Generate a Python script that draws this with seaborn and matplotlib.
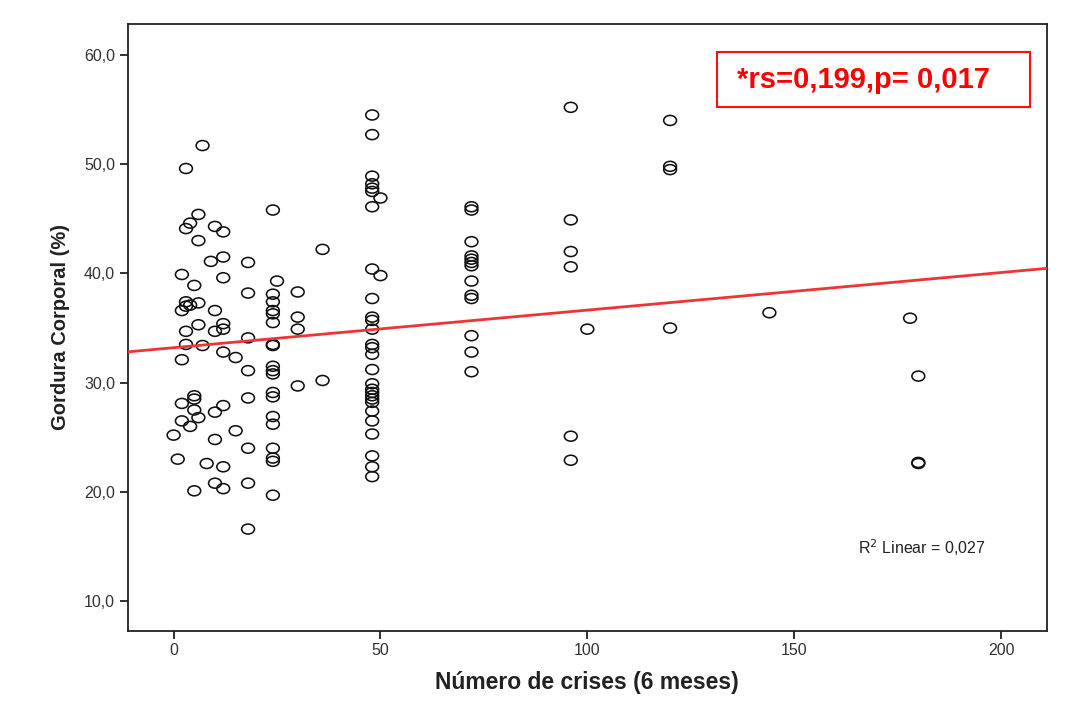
import matplotlib
matplotlib.use("Agg")
import matplotlib.pyplot as plt
import matplotlib.ticker as mticker
from matplotlib.patches import Rectangle
from matplotlib.path import Path
import seaborn as sns
import pandas as pd

# ---- data ----
crises_low = [7, 3, 24, 6, 4, 3, 10, 12, 6, 36, 9, 12, 18, 2, 12, 25, 5, 18,
              24, 24, 24, 24, 24, 30, 30, 3, 3, 2, 4, 6, 10, 6, 12, 12, 10, 3,
              18, 30, 3, 7, 24, 24, 12, 15, 2, 18, 24, 24, 24, 36, 30, 5, 5, 2,
              18, 24, 24, 12, 10, 5, 6, 2, 4, 24, 24, 15, 0, 10, 18, 24, 1, 8,
              12, 24, 24, 18, 10, 12, 5, 24, 18]
gordura_low = [51.7, 49.6, 45.8, 45.4, 44.6, 44.1, 44.3, 43.8, 43.0, 42.2, 41.1,
               41.5, 41.0, 39.9, 39.6, 39.3, 38.9, 38.2, 38.1, 37.4, 36.6, 36.3,
               35.5, 38.3, 36.0, 37.4, 37.0, 36.6, 37.1, 37.3, 36.6, 35.3, 35.4,
               34.9, 34.7, 34.7, 34.1, 34.9, 33.5, 33.4, 33.5, 33.4, 32.8, 32.3,
               32.1, 31.1, 31.5, 31.1, 30.8, 30.2, 29.7, 28.8, 28.5, 28.1, 28.6,
               29.1, 28.7, 27.9, 27.3, 27.5, 26.8, 26.5, 26.0, 26.9, 26.2, 25.6,
               25.2, 24.8, 24.0, 24.0, 23.0, 22.6, 22.3, 23.1, 22.8, 20.8, 20.8,
               20.3, 20.1, 19.7, 16.6]

gordura_48 = [54.5, 52.7, 48.9, 48.2, 47.8, 47.5, 46.1, 40.4, 37.7, 36.0, 35.7,
              34.9, 33.5, 33.2, 32.6, 31.2, 29.9, 29.4, 29.1, 28.8, 28.5, 28.2,
              27.4, 26.5, 25.3, 23.3, 22.3, 21.4]
gordura_50 = [46.9, 39.8]
gordura_72 = [46.1, 45.8, 42.9, 41.6, 41.3, 41.0, 40.7, 39.3, 38.0, 37.7, 34.3,
              32.8, 31.0]
gordura_96 = [55.2, 44.9, 42.0, 40.6, 25.1, 22.9]
gordura_100 = [34.9]
gordura_120 = [54.0, 49.8, 49.5, 35.0]
gordura_144 = [36.4]
gordura_178 = [35.9]
gordura_180 = [30.6, 22.7, 22.6]

x_ticks = [0, 50, 100, 150, 200]
y_ticks = [10, 20, 30, 40, 50, 60]
annot_text = "*rs=0,199,p= 0,017"
r2_text = "R$^2$ Linear = 0,027"
x_label = "Número de crises (6 meses)"
y_label = "Gordura Corporal (%)"

groups = [(48, gordura_48), (50, gordura_50), (72, gordura_72), (96, gordura_96),
          (100, gordura_100), (120, gordura_120), (144, gordura_144),
          (178, gordura_178), (180, gordura_180)]
xs = list(crises_low)
ys = list(gordura_low)
for gx, gy in groups:
    xs += [gx] * len(gy)
    ys += gy
df = pd.DataFrame({"crises": xs, "gordura": ys})

# ---- plot ----
sns.set_theme(style="white")
plt.rcParams["font.family"] = ["Liberation Sans", "DejaVu Sans"]

# slightly flattened open circle, as in the (horizontally stretched) reference
_c = Path.unit_circle()
ellipse = Path(_c.vertices * [1.0, 0.78], _c.codes)

fig = plt.figure(figsize=(10.71, 7.08), dpi=100)
ax = fig.add_axes([0.1192, 0.1092, 0.9776 - 0.1192, 0.9657 - 0.1092])
ax.set_xlim(-11.1, 211.1)
ax.set_ylim(7.3, 62.8)

sns.scatterplot(data=df, x="crises", y="gordura", ax=ax, marker=ellipse,
                facecolor="none", edgecolor="#111111", linewidth=1.15, s=85,
                legend=False, zorder=3)
sns.regplot(data=df, x="crises", y="gordura", ax=ax, scatter=False, ci=None,
            truncate=False, line_kws={"color": "#ee3535", "lw": 2.0, "zorder": 4})
ax.set_xlim(-11.1, 211.1)
ax.set_ylim(7.3, 62.8)

ax.set_xticks(x_ticks)
ax.set_yticks(y_ticks)
ax.yaxis.set_major_formatter(mticker.FuncFormatter(lambda v, p: f"{v:.1f}".replace(".", ",")))
ax.tick_params(axis="both", which="major", direction="out", length=6, width=1.3,
               colors="#222222", labelsize=11.5, labelcolor="#333333",
               bottom=True, left=True, pad=3)
for s in ax.spines.values():
    s.set_color("#222222")
    s.set_linewidth(1.3)

ax.set_xlabel(x_label, fontsize=16.5, fontweight="bold", color="#222222", labelpad=9)
ax.set_ylabel(y_label, fontsize=14.5, fontweight="bold", color="#222222", labelpad=10)

# annotation box (figure coordinates)
box = Rectangle((717 / 1071, 1 - 107 / 708), (1030 - 717) / 1071, (107 - 52) / 708,
                transform=fig.transFigure, facecolor="white", edgecolor="#ff1010",
                linewidth=1.5, zorder=5)
fig.patches.append(box)
fig.text(737 / 1071, 1 - 80 / 708, annot_text, color="#ff0000", fontsize=21,
         fontweight="bold", ha="left", va="center", zorder=6)

fig.text(858 / 1071, 1 - 548 / 708, r2_text, fontsize=11.5, color="#222222",
         ha="left", va="center")

fig.savefig("out.png", dpi=100, facecolor="white")
